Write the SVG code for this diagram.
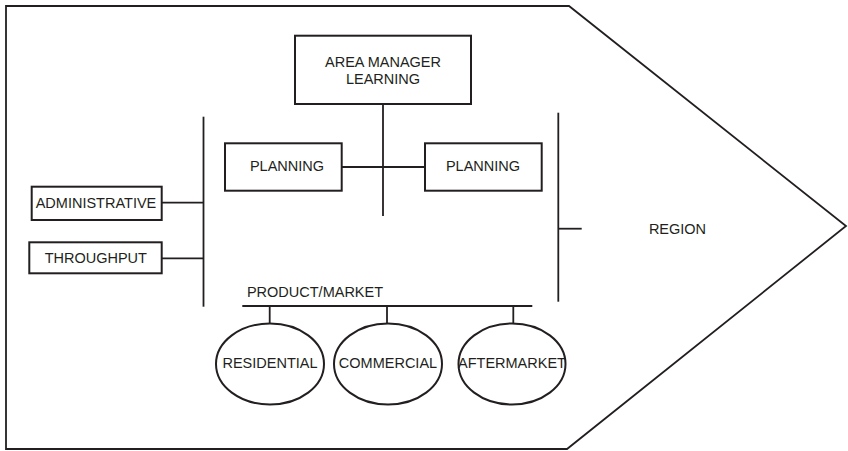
<svg xmlns="http://www.w3.org/2000/svg" width="848" height="451" viewBox="0 0 848 451">
<style>
.s{fill:none;stroke:#231f20;stroke-width:1.8}
.b{fill:#fff;stroke:#231f20;stroke-width:2}
.t{font-family:"Liberation Sans",Arial,sans-serif;font-size:14.5px;fill:#231f20;text-anchor:middle}
</style>
<rect width="848" height="451" fill="#fff"/>
<g id="region">
<polygon class="s" points="6,6 569,6 846,226 567,449 6,449" stroke-width="2"/>
<text class="t" x="677.5" y="234">REGION</text>
</g>
<g id="connectors">
<line class="s" x1="383" y1="104" x2="383" y2="216"/>
<line class="s" x1="341.7" y1="167" x2="425" y2="167"/>
<line class="s" x1="203.5" y1="116.7" x2="203.5" y2="306.7"/>
<line class="s" x1="161.7" y1="202.7" x2="203.5" y2="202.7"/>
<line class="s" x1="161.7" y1="258.3" x2="203.5" y2="258.3"/>
<line class="s" x1="558.3" y1="112.7" x2="558.3" y2="301.7"/>
<line class="s" x1="558.3" y1="228.7" x2="581.7" y2="228.7"/>
<line class="s" x1="242.3" y1="306" x2="532.3" y2="306"/>
<line class="s" x1="269.7" y1="306" x2="269.7" y2="323.5"/>
<line class="s" x1="387" y1="306" x2="387" y2="323.5"/>
<line class="s" x1="513.3" y1="306" x2="513.3" y2="323.5"/>
</g>
<g id="area-manager">
<rect class="b" x="295" y="35.7" width="176" height="68.3"/>
<text class="t" x="383" y="67">AREA MANAGER</text>
<text class="t" x="383" y="84">LEARNING</text>
</g>
<g id="planning-left">
<rect class="b" x="225" y="143.3" width="116.7" height="47.4"/>
<text class="t" x="287" y="171">PLANNING</text>
</g>
<g id="planning-right">
<rect class="b" x="425" y="143.3" width="116.7" height="47.4"/>
<text class="t" x="483" y="171">PLANNING</text>
</g>
<g id="administrative">
<rect class="b" x="31.7" y="186.7" width="130" height="33.3"/>
<text class="t" x="96" y="208.3">ADMINISTRATIVE</text>
</g>
<g id="throughput">
<rect class="b" x="29.3" y="242.3" width="132.4" height="31"/>
<text class="t" x="95.8" y="262.7">THROUGHPUT</text>
</g>
<g id="product-market">
<text class="t" x="315" y="297.3">PRODUCT/MARKET</text>
</g>
<g id="residential">
<ellipse class="b" cx="270" cy="364" rx="54" ry="40.5"/>
<text class="t" x="270" y="368">RESIDENTIAL</text>
</g>
<g id="commercial">
<ellipse class="b" cx="388" cy="364" rx="54" ry="40.5"/>
<text class="t" x="388" y="368">COMMERCIAL</text>
</g>
<g id="aftermarket">
<ellipse class="b" cx="512" cy="364" rx="53.5" ry="40.5"/>
<text class="t" x="512" y="368">AFTERMARKET</text>
</g>
</svg>
